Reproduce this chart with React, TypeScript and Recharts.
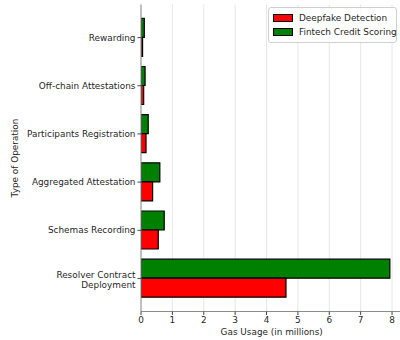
import { Bar, BarChart, CartesianGrid, Legend, XAxis, YAxis } from "recharts";

const CATEGORIES = [
  "Rewarding",
  "Off-chain Attestations",
  "Participants Registration",
  "Aggregated Attestation",
  "Schemas Recording",
  "Resolver Contract\nDeployment",
];
const DEEPFAKE = [0.05, 0.085, 0.16, 0.37, 0.55, 4.62];
const FINTECH = [0.105, 0.13, 0.23, 0.6, 0.74, 7.93];
const X_TICKS = [0, 1, 2, 3, 4, 5, 6, 7, 8];

const SERIES = [
  { key: "deepfake", name: "Deepfake Detection", color: "#ff0000" },
  { key: "fintech", name: "Fintech Credit Scoring", color: "#008000" },
];

const FONT = "'DejaVu Sans', sans-serif";
const FS = 8.9;
const TEXT = "#1f1f1f";

const data = CATEGORIES.map((name, i) => ({
  name,
  deepfake: DEEPFAKE[i],
  fintech: FINTECH[i],
}));

// category labels may wrap onto several lines, right-aligned against the ticks
function CategoryTick({ x, y, payload }: any) {
  const lines = String(payload.value).split("\n");
  return (
    <text x={x} y={y} textAnchor="end" fontSize={FS} fontFamily={FONT} fill={TEXT}>
      {lines.map((line, i) => (
        <tspan key={i} x={x} dy={i === 0 ? (lines.length > 1 ? 0 : 3.2) : 10}>
          {line}
        </tspan>
      ))}
    </text>
  );
}

function LegendBox() {
  return (
    <div
      style={{
        border: "1px solid #d0d0d0",
        borderRadius: 3,
        background: "rgba(255,255,255,0.8)",
        padding: "3px 4px 3px 4px",
        fontFamily: FONT,
        fontSize: FS,
        color: TEXT,
        boxSizing: "border-box",
        width: 129,
      }}
    >
      {SERIES.map((s) => (
        <div key={s.key} style={{ display: "flex", alignItems: "center", height: 14 }}>
          <span
            style={{
              display: "inline-block",
              width: 18,
              height: 6,
              background: s.color,
              border: "1px solid #000",
              marginRight: 6,
              flexShrink: 0,
            }}
          />
          <span style={{ whiteSpace: "nowrap" }}>{s.name}</span>
        </div>
      ))}
    </div>
  );
}

export default function App() {
  return (
    <div
      style={{
        position: "absolute",
        left: 0,
        top: 0,
        width: 400,
        height: 340,
        overflow: "hidden",
        background: "#fff",
      }}
    >
      <BarChart
        width={403}
        height={340}
        data={data}
        layout="vertical"
        margin={{ top: 4.5, right: 0.6, bottom: 0, left: 0 }}
        barCategoryGap="10%"
        barGap={0}
      >
        <XAxis
          type="number"
          domain={[0, 8.33]}
          ticks={X_TICKS}
          allowDataOverflow
          height={28.5}
          tickSize={3.5}
          tick={{ fontSize: FS, fontFamily: FONT, fill: TEXT }}
          axisLine={{ stroke: "#8c8c8c" }}
          tickLine={{ stroke: "#444" }}
          label={{
            value: "Gas Usage (in millions)",
            position: "insideBottom",
            offset: 5,
            fontSize: FS,
            fontFamily: FONT,
            fill: TEXT,
          }}
        />
        <XAxis
          xAxisId="top"
          orientation="top"
          type="number"
          domain={[0, 8.33]}
          height={0}
          tick={false}
          tickLine={false}
          axisLine={{ stroke: "#8c8c8c" }}
        />
        <YAxis
          type="category"
          dataKey="name"
          width={141}
          padding={{ top: 9, bottom: 9 }}
          tickSize={3.5}
          tick={<CategoryTick />}
          axisLine={{ stroke: "#8c8c8c" }}
          tickLine={{ stroke: "#444" }}
          label={{
            value: "Type of Operation",
            angle: -90,
            position: "insideLeft",
            offset: 15,
            fontSize: FS,
            fontFamily: FONT,
            fill: TEXT,
            style: { textAnchor: "middle" },
          }}
        />
        <Bar
          dataKey="fintech"
          name="Fintech Credit Scoring"
          fill="#008000"
          stroke="#000"
          strokeWidth={1.2}
          isAnimationActive={false}
        />
        <Bar
          dataKey="deepfake"
          name="Deepfake Detection"
          fill="#ff0000"
          stroke="#000"
          strokeWidth={1.2}
          isAnimationActive={false}
        />
        <CartesianGrid horizontal={false} stroke="#dddddd" strokeOpacity={0.7} />
        <Legend
          layout="horizontal"
          verticalAlign="middle"
          align="center"
          wrapperStyle={{ top: 6.5, left: 268, width: 129 }}
          content={() => <LegendBox />}
        />
      </BarChart>
    </div>
  );
}
